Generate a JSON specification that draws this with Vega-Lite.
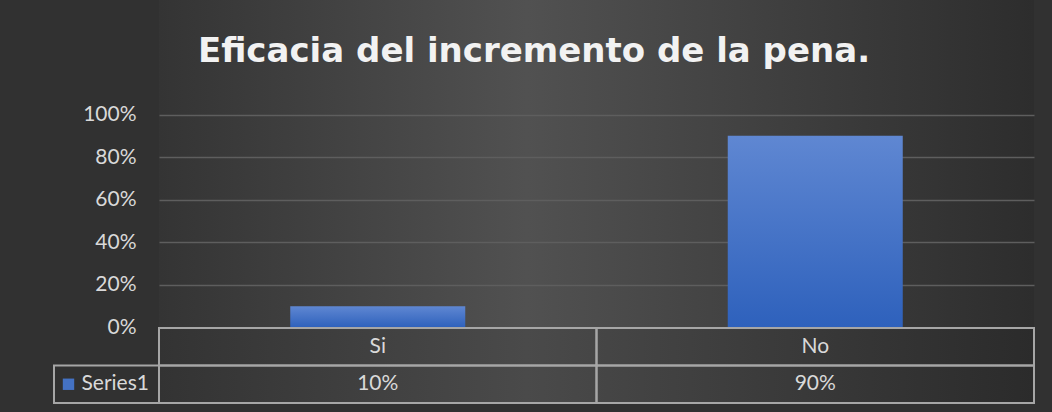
{
  "$schema": "https://vega.github.io/schema/vega-lite/v6.json",
  "background": "#313131",
  "padding": {"left": 53, "top": 0, "right": 19, "bottom": 9},
  "title": {
    "text": "Eficacia del incremento de la pena.",
    "font": "DejaVu Sans",
    "fontSize": 34,
    "fontWeight": "bold",
    "color": "#f2f2f2",
    "anchor": "middle",
    "baseline": "alphabetic",
    "offset": 0,
    "dx": -10,
    "dy": 96
  },
  "data": {"values": [
    {"Categoria": "Si", "Porcentaje": 0.1},
    {"Categoria": "No", "Porcentaje": 0.9}
  ]},
  "columns": 2,
  "spacing": 0,
  "bounds": "flush",
  "concat": [
    {
      "width": 105,
      "height": 327.5,
      "mark": {"type": "rect", "opacity": 0},
      "encoding": {}
    },
    {
      "width": 875,
      "height": 327.5,
      "view": {
        "stroke": null,
        "fill": {
          "gradient": "linear", "x1": 0, "y1": 0, "x2": 1, "y2": 0,
          "stops": [
            {"offset": 0, "color": "#343434"},
            {"offset": 0.42, "color": "#515151"},
            {"offset": 1, "color": "#2d2d2d"}
          ]
        }
      },
      "mark": {
        "type": "bar",
        "color": {
          "gradient": "linear", "x1": 0, "y1": 0, "x2": 0, "y2": 1,
          "stops": [
            {"offset": 0, "color": "#5f87d2"},
            {"offset": 1, "color": "#2e61bc"}
          ]
        }
      },
      "encoding": {
        "x": {
          "field": "Categoria", "type": "nominal", "sort": null,
          "scale": {"paddingInner": 0.6, "paddingOuter": 0.3},
          "axis": null
        },
        "y": {
          "field": "Porcentaje", "type": "quantitative",
          "scale": {"domain": [0, 1.5376], "nice": false},
          "axis": {
            "title": null,
            "format": ".0%",
            "values": [0, 0.2, 0.4, 0.6, 0.8, 1],
            "domain": false,
            "ticks": false,
            "labelPadding": 23,
            "labelFont": "Lato",
            "labelFontSize": 21,
            "labelColor": "#d9d9d9",
            "gridColor": "#5e5e5e",
            "gridWidth": 1.5
          }
        }
      }
    },
    {
      "width": 105,
      "height": 75,
      "data": {"values": [{"Serie": "Series1"}]},
      "layer": [
        {
          "mark": {"type": "rect", "fill": null, "stroke": "#a6a6a6", "strokeWidth": 2},
          "encoding": {
            "y": {"datum": "valor", "type": "nominal", "scale": {"domain": ["nombre", "valor"], "paddingInner": 0, "paddingOuter": 0}, "axis": null}
          }
        },
        {
          "mark": {"type": "point", "shape": "square", "filled": true, "size": 130, "color": "#4472c4", "opacity": 1, "xOffset": -38},
          "encoding": {
            "y": {"datum": "valor", "type": "nominal"}
          }
        },
        {
          "mark": {"type": "text", "align": "left", "dx": -25, "font": "Lato", "fontSize": 21, "color": "#d9d9d9"},
          "encoding": {
            "y": {"datum": "valor", "type": "nominal"},
            "text": {"field": "Serie"}
          }
        }
      ]
    },
    {
      "width": 875,
      "height": 75,
      "view": {
        "stroke": null,
        "fill": {
          "gradient": "linear", "x1": 0, "y1": 0, "x2": 1, "y2": 0,
          "stops": [
            {"offset": 0, "color": "#333333"},
            {"offset": 0.42, "color": "#4a4a4a"},
            {"offset": 1, "color": "#2b2b2b"}
          ]
        }
      },
      "encoding": {
        "x": {
          "field": "Categoria", "type": "nominal", "sort": null,
          "scale": {"paddingInner": 0, "paddingOuter": 0},
          "axis": null
        }
      },
      "layer": [
        {
          "mark": {"type": "rect", "fill": null, "stroke": "#a6a6a6", "strokeWidth": 2},
          "encoding": {
            "y": {"datum": "nombre", "type": "nominal", "scale": {"domain": ["nombre", "valor"], "paddingInner": 0, "paddingOuter": 0}, "axis": null}
          }
        },
        {
          "mark": {"type": "rect", "fill": null, "stroke": "#a6a6a6", "strokeWidth": 2},
          "encoding": {
            "y": {"datum": "valor", "type": "nominal"}
          }
        },
        {
          "mark": {"type": "text", "font": "Lato", "fontSize": 21, "color": "#d9d9d9"},
          "encoding": {
            "y": {"datum": "nombre", "type": "nominal"},
            "text": {"field": "Categoria"}
          }
        },
        {
          "mark": {"type": "text", "font": "Lato", "fontSize": 21, "color": "#d9d9d9"},
          "encoding": {
            "y": {"datum": "valor", "type": "nominal"},
            "text": {"field": "Porcentaje", "format": ".0%"}
          }
        }
      ]
    }
  ],
  "config": {
    "view": {"stroke": null}
  }
}
